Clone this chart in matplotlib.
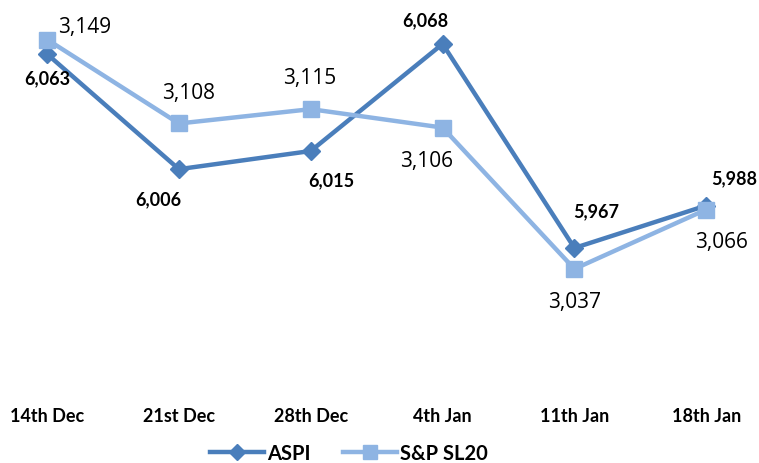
import matplotlib
matplotlib.use("Agg")
import matplotlib.pyplot as plt

# data
weeks = ["14th Dec", "21st Dec", "28th Dec", "4th Jan", "11th Jan", "18th Jan"]
aspi = [6063, 6006, 6015, 6068, 5967, 5988]
sl20 = [3149, 3108, 3115, 3106, 3037, 3066]

# label offsets in pixels (x right, y up)
aspi_off = [(0, -24), (-21, -30), (21, -29), (-17, 24), (22, 37), (28, 28)]
sl20_off = [(38, 13), (10, 31), (-1, 32), (-16, -33), (0, -33), (15, -32)]

c_aspi = "#4A7EBB"
c_sl20 = "#8EB4E3"
bold_font = ["Lato", "DejaVu Sans"]

fig = plt.figure(figsize=(7.59, 4.64), dpi=100)
ax = fig.add_axes([0, 0.1595, 1, 0.819])
ax2 = ax.twinx()

x = list(range(len(weeks)))
l1, = ax.plot(x, aspi, color=c_aspi, lw=3.2, marker="D", ms=9, label="ASPI", zorder=3)
l2, = ax2.plot(x, sl20, color=c_sl20, lw=3.2, marker="s", ms=12, label="S&P SL20", zorder=2)

ax.set_xlim(-0.357, 5.40)
ax.set_ylim(5897.2, 6085.3)
ax2.set_ylim(2978.4, 3163.9)

for i, v in enumerate(aspi):
    ax.annotate(f"{v:,}", (x[i], v), xytext=aspi_off[i], textcoords="offset pixels",
                ha="center", va="center", fontsize=13, fontweight="bold",
                family=bold_font, color="black")
for i, v in enumerate(sl20):
    ax2.annotate(f"{v:,}", (x[i], v), xytext=sl20_off[i], textcoords="offset pixels",
                 ha="center", va="center", fontsize=15,
                 family=["Open Sans", "DejaVu Sans"], color="black")

ax.set_xticks(x)
ax.set_xticklabels(weeks, fontsize=13, fontweight="bold", family=bold_font)
ax.tick_params(axis="x", length=0, pad=13)
ax.set_yticks([])
ax2.set_yticks([])
for a in (ax, ax2):
    for s in a.spines.values():
        s.set_visible(False)

fig.legend(handles=[l1, l2], loc="center", bbox_to_anchor=(349 / 759, 1 - 454 / 464), ncol=2,
           frameon=False, prop={"family": bold_font, "weight": "bold", "size": 14.5},
           handlelength=2.7, handletextpad=0.15, columnspacing=1.6, markerscale=0.85)

fig.savefig("out.png", dpi=100)
